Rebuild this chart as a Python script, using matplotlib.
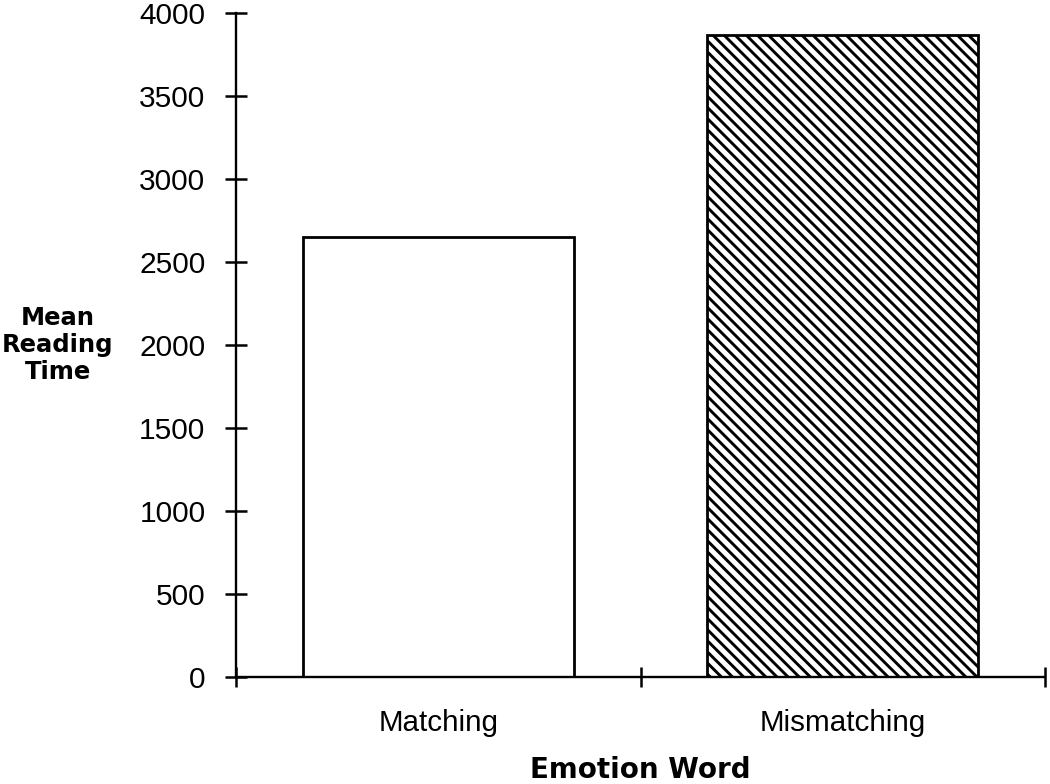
import matplotlib.pyplot as plt

plt.rcParams['font.family'] = ['Liberation Sans', 'DejaVu Sans']
plt.rcParams['hatch.linewidth'] = 2.1

categories = ["Matching", "Mismatching"]
reading_time = [2650, 3870]
hatches = ["", "\\\\\\"]
y_ticks = [0, 500, 1000, 1500, 2000, 2500, 3000, 3500, 4000]

fig = plt.figure(figsize=(10.5, 7.84), dpi=100)
ax = fig.add_axes([236 / 1050, 1 - 677 / 784, (1045 - 236) / 1050, (677 - 13) / 784])

positions = [0.5, 1.5]
for x, v, h in zip(positions, reading_time, hatches):
    ax.bar(x, v, width=0.67, facecolor="white", edgecolor="black",
           linewidth=2.0, hatch=h)

ax.set_xlim(0, 2)
ax.set_ylim(0, 4000)

ax.spines["top"].set_visible(False)
ax.spines["right"].set_visible(False)
ax.spines["left"].set_linewidth(1.7)
ax.spines["bottom"].set_linewidth(1.7)

ax.set_yticks(y_ticks)
ax.tick_params(axis="y", direction="inout", length=16, width=1.8,
               labelsize=21.5, pad=14)

ax.set_xticks([0, 1, 2])
ax.set_xticklabels(["", "", ""])
ax.set_xticks(positions, minor=True)
ax.set_xticklabels(categories, minor=True)
ax.tick_params(axis="x", which="major", direction="inout", length=14.5, width=1.8)
ax.tick_params(axis="x", which="minor", length=0, labelsize=21.3, pad=23)

ax.set_xlabel("Emotion Word", fontsize=20, fontweight="bold", family="DejaVu Sans")
ax.xaxis.set_label_coords(0.5, (677 - 756) / 664)
fig.text(58 / 1050, 1 - 345 / 784, "Mean\nReading\nTime", ha="center", va="center",
         fontsize=17.5, fontweight="bold", family="DejaVu Sans", linespacing=1.15)

fig.savefig("out.png", dpi=100)
